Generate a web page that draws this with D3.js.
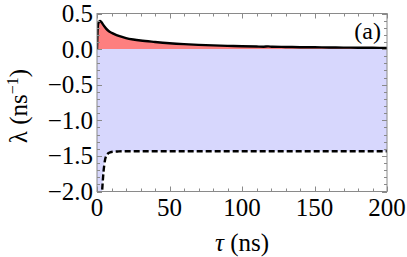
<!DOCTYPE html>
<html><head><meta charset="utf-8">
<script src="https://cdn.jsdelivr.net/npm/d3@7"></script>
</head><body style="margin:0">
<script>
const tauSolid = [0,0.5,1,2,3,4,5,6,8,10,12,15,20,25,30,40,50,60,70,80,90,100,110,115,118,121,130,140,150,160,170,180,190,200];
const lambdaSolid = [0.0,0.3,0.37,0.395,0.38,0.35,0.32,0.295,0.255,0.23,0.21,0.185,0.155,0.135,0.12,0.1,0.083,0.07,0.06,0.052,0.046,0.04,0.036,0.034,0.038,0.033,0.03,0.027,0.025,0.023,0.021,0.02,0.018,0.017];
const tauDashed = [0,2,3,3.5,4,4.5,5,5.5,6,7,8,9,10,12,15,20,50,100,150,200];
const lambdaDashed = [-2.6,-2.3,-2.1,-2.0,-1.85,-1.72,-1.63,-1.56,-1.52,-1.48,-1.46,-1.45,-1.445,-1.44,-1.437,-1.435,-1.435,-1.435,-1.435,-1.435];
const xTicks = [0,50,100,150,200];
const yTicks = [-2.0,-1.5,-1.0,-0.5,0.0,0.5];
const panelLabel = "(a)";

const W=407,H=257;
const L=97,R=387,T=13.5,B=191.5;
const svg=d3.select("body").append("svg").attr("width",W).attr("height",H)
  .style("font-family","Tinos, 'Liberation Serif', 'Times New Roman', serif");
const x=d3.scaleLinear().domain([0,200]).range([L,R]);
const y=d3.scaleLinear().domain([-2,0.5]).range([B,T]);

svg.append("defs").append("clipPath").attr("id","clip").append("rect")
  .attr("x",L).attr("y",T).attr("width",R-L).attr("height",B-T);
const g=svg.append("g").attr("clip-path","url(#clip)");

const solid=tauSolid.map((t,i)=>[t,lambdaSolid[i]]);
const dashed=tauDashed.map((t,i)=>[t,lambdaDashed[i]]);

g.append("path").datum(dashed)
  .attr("d",d3.area().x(d=>x(d[0])).y0(y(0)).y1(d=>y(d[1])).curve(d3.curveMonotoneX))
  .attr("fill","#d7d7fd");
g.append("path").datum(solid)
  .attr("d",d3.area().x(d=>x(d[0])).y0(y(0)).y1(d=>y(d[1])).curve(d3.curveMonotoneX))
  .attr("fill","#fd7f7f");
g.append("path").datum(solid)
  .attr("d",d3.line().x(d=>x(d[0])).y(d=>y(d[1])).curve(d3.curveMonotoneX))
  .attr("fill","none").attr("stroke","#000").attr("stroke-width",2.4);
g.append("path").datum(dashed)
  .attr("d",d3.line().x(d=>x(d[0])).y(d=>y(d[1])).curve(d3.curveMonotoneX))
  .attr("fill","none").attr("stroke","#000").attr("stroke-width",2.4).attr("stroke-dasharray","6,3");

const fc="#8a8a8a";
const ax=svg.append("g").attr("stroke",fc).attr("stroke-width",1).attr("fill","none");
const xMinor=d3.range(0,201,10), yMinor=d3.range(-20,6,1).map(v=>v/10);
xMinor.forEach(v=>{
  const maj=xTicks.includes(v), len=maj?5:3, px=Math.round(x(v))+0.5;
  ax.append("line").attr("x1",px).attr("x2",px).attr("y1",B).attr("y2",B-len);
  ax.append("line").attr("x1",px).attr("x2",px).attr("y1",T).attr("y2",T+len);
});
yMinor.forEach(v=>{
  const maj=yTicks.some(t=>Math.abs(t-v)<1e-9), len=maj?5:3, py=Math.round(y(v))+0.5;
  ax.append("line").attr("x1",L).attr("x2",L+len).attr("y1",py).attr("y2",py);
  ax.append("line").attr("x1",R).attr("x2",R-len).attr("y1",py).attr("y2",py);
});
ax.append("rect").attr("x",L).attr("y",T).attr("width",R-L).attr("height",B-T);

const fs=25;
function txt(size){ return svg.append("text").attr("font-size",size).attr("fill","#000"); }
xTicks.forEach(v=>{
  txt(fs).attr("x",x(v)).attr("y",B+24).attr("text-anchor","middle").text(d3.format("d")(v));
});
yTicks.forEach(v=>{
  txt(fs).attr("x",L-4).attr("y",y(v)+8.5).attr("text-anchor","end")
    .text(d3.format(".1f")(v).replace("-","\u2212"));
});
const xl=txt(fs).attr("x",242).attr("y",251).attr("text-anchor","middle");
xl.append("tspan").style("font-style","italic").text("τ");
xl.append("tspan").text(" (ns)");
const yl=txt(fs).attr("transform","translate(27,106) rotate(-90)").attr("text-anchor","middle");
yl.append("tspan").text("λ (ns");
yl.append("tspan").attr("dy",-9).attr("font-size",16).text("−1");
yl.append("tspan").attr("dy",9).text(")");
txt(24).attr("x",381).attr("y",39).attr("text-anchor","end").text(panelLabel);
</script>
</body></html>
